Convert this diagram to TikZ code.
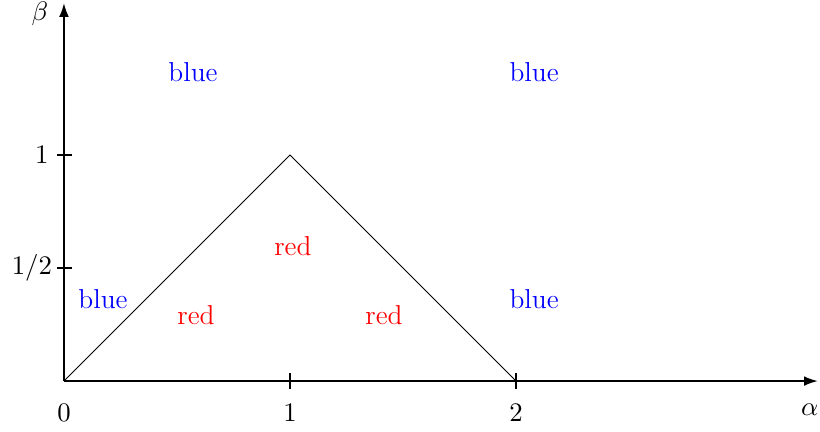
\documentclass[tikz,border=0pt]{standalone}
\usetikzlibrary{arrows.meta}

\begin{document}
\begin{tikzpicture}[x=3.25cm,y=3.25cm,
    every node/.style={font=\fontsize{11.2}{13}\selectfont},
    axis/.style={line width=0.8pt, -{Latex[length=2mm,width=1.4mm]}},
    tick/.style={line width=0.8pt},
    edge/.style={line width=0.4pt},
    lbl/.style={inner sep=1pt},
    bluetxt/.style={text=blue},
    redtxt/.style={text=red}
  ]
  \useasboundingbox (-0.283,-0.221) rectangle (3.345,1.686);
  \coordinate (o) at (0,0);
  \coordinate (xend) at (3.336,0);
  \coordinate (yend) at (0,1.673);
  \coordinate (top) at (1,1);
  \coordinate (right) at (2,0);
  \draw[axis] (o) -- (xend);
  \draw[axis] (o) -- (yend);
  \draw[edge] (o) -- (top) -- (right);
  % ticks
  \foreach \x in {1,2}
    \draw[tick] (\x,-0.035) -- (\x,0.035);
  \foreach \y in {0.5,1}
    \draw[tick] (-0.031,\y) -- (0.035,\y);
  \node[lbl] (l0) at (0,-0.142) {$0$};
  \node[lbl] (l1) at (1,-0.142) {$1$};
  \node[lbl] (l2) at (2,-0.142) {$2$};
  \node[lbl,anchor=east] (ly1) at (-0.055,1) {$1$};
  \node[lbl,anchor=east] (lyh) at (-0.04,0.5) {$1/2$};
  \node[lbl] (alpha) at (3.30,-0.128) {$\alpha$};
  \node[lbl] (beta) at (-0.106,1.624) {$\beta$};
  % regions
  \node[bluetxt] (b1) at (0.571,1.367) {blue};
  \node[bluetxt] (b2) at (2.080,1.367) {blue};
  \node[bluetxt] (b3) at (0.173,0.363) {blue};
  \node[bluetxt] (b4) at (2.080,0.363) {blue};
  \node[redtxt] (r1) at (0.584,0.292) {red};
  \node[redtxt] (r2) at (1.416,0.292) {red};
  \node[redtxt] (r3) at (1.013,0.597) {red};
\end{tikzpicture}
\end{document}
